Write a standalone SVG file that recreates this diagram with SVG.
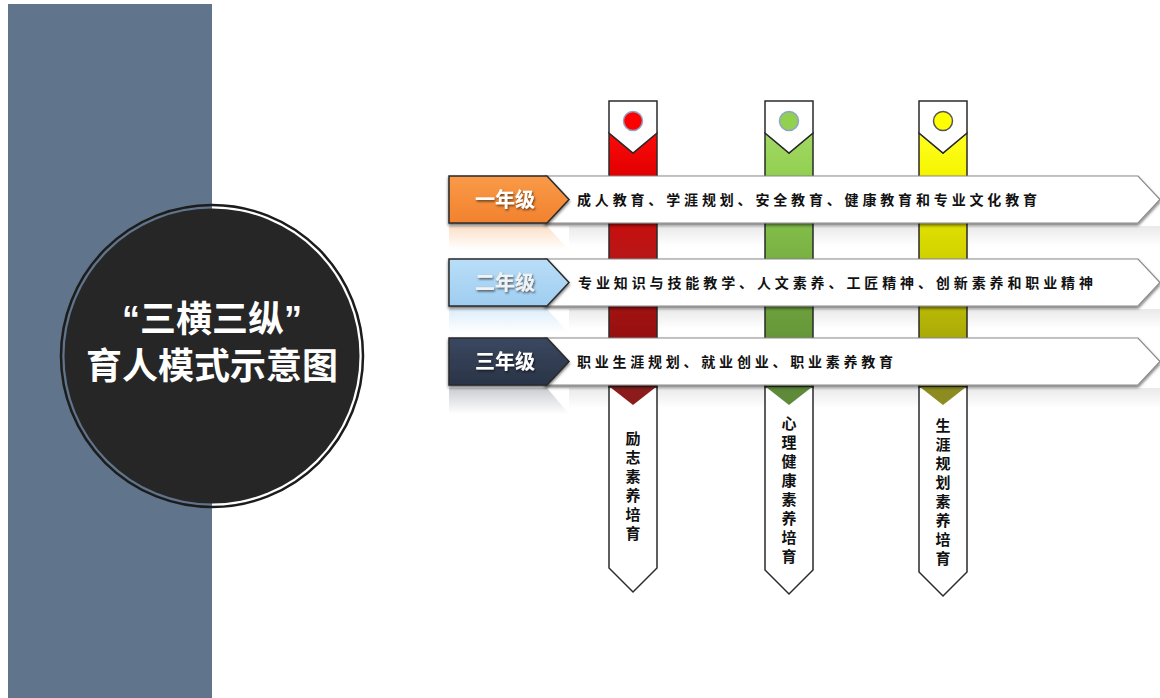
<svg xmlns="http://www.w3.org/2000/svg" width="1160" height="698" viewBox="0 0 1160 698">
<defs>
<style>
.tagtxt{font-family:"Noto Sans CJK SC","Noto Sans",sans-serif;font-size:20px;font-weight:bold;fill:#fff;text-anchor:middle;}
.bantxt{font-family:"Noto Sans CJK SC",sans-serif;font-size:14px;font-weight:bold;fill:#111;}
.vtxt{font-family:"Noto Sans CJK SC",sans-serif;font-size:15px;font-weight:bold;fill:#111;writing-mode:tb;letter-spacing:4px;}
.edge{stroke:#2a2a2a;stroke-width:1.5;stroke-linejoin:miter;}
.ban{fill:#fff;stroke:#8a8a8a;stroke-width:1.2;}
.title{font-family:"Liberation Sans","Noto Sans CJK SC",sans-serif;font-size:36px;font-weight:bold;fill:#fff;text-anchor:middle;}
</style>
<filter id="sh" x="-10%" y="-30%" width="120%" height="180%">
<feDropShadow dx="0" dy="2" stdDeviation="1.5" flood-color="#000" flood-opacity="0.55"/>
</filter>
<filter id="tsh" x="-20%" y="-30%" width="140%" height="170%">
<feDropShadow dx="1" dy="1.5" stdDeviation="1" flood-color="#000" flood-opacity="0.6"/>
</filter>
<linearGradient id="gRed" gradientUnits="userSpaceOnUse" x1="0" y1="132" x2="0" y2="405">
<stop offset="0" stop-color="#ff0a0a"/><stop offset="0.16" stop-color="#e00000"/><stop offset="0.45" stop-color="#b81616"/><stop offset="1" stop-color="#7a0a0a"/>
</linearGradient>
<linearGradient id="gGreen" gradientUnits="userSpaceOnUse" x1="0" y1="132" x2="0" y2="405">
<stop offset="0" stop-color="#a2d864"/><stop offset="0.16" stop-color="#92d050"/><stop offset="0.45" stop-color="#7ab244"/><stop offset="1" stop-color="#557f30"/>
</linearGradient>
<linearGradient id="gYellow" gradientUnits="userSpaceOnUse" x1="0" y1="132" x2="0" y2="405">
<stop offset="0" stop-color="#ffff20"/><stop offset="0.16" stop-color="#f5f500"/><stop offset="0.45" stop-color="#d2d200"/><stop offset="1" stop-color="#8a8a10"/>
</linearGradient>
<linearGradient id="tOrange" x1="0" y1="0" x2="0" y2="1"><stop offset="0" stop-color="#f99a48"/><stop offset="1" stop-color="#f2822e"/></linearGradient>
<linearGradient id="tBlue" x1="0" y1="0" x2="0" y2="1"><stop offset="0" stop-color="#b9def8"/><stop offset="1" stop-color="#9fcdf0"/></linearGradient>
<linearGradient id="tNavy" x1="0" y1="0" x2="0" y2="1"><stop offset="0" stop-color="#3a4860"/><stop offset="1" stop-color="#2a3447"/></linearGradient>
<linearGradient id="rOrange" x1="0" y1="0" x2="0" y2="1"><stop offset="0" stop-color="#f79646" stop-opacity="0.3"/><stop offset="1" stop-color="#f79646" stop-opacity="0"/></linearGradient>
<linearGradient id="rBlue" x1="0" y1="0" x2="0" y2="1"><stop offset="0" stop-color="#9fcdf0" stop-opacity="0.35"/><stop offset="1" stop-color="#9fcdf0" stop-opacity="0"/></linearGradient>
<linearGradient id="rNavy" x1="0" y1="0" x2="0" y2="1"><stop offset="0" stop-color="#2a3447" stop-opacity="0.25"/><stop offset="1" stop-color="#2a3447" stop-opacity="0"/></linearGradient>
<linearGradient id="rGray" x1="0" y1="0" x2="0" y2="1"><stop offset="0" stop-color="#888" stop-opacity="0.18"/><stop offset="1" stop-color="#888" stop-opacity="0"/></linearGradient>
</defs>

<rect x="0" y="0" width="1160" height="698" fill="#fff"/>
<rect x="8" y="4" width="204" height="694" fill="#60748b"/>

<g id="title">
<circle cx="212" cy="356" r="151" fill="none" stroke="#1c1c1c" stroke-width="2.5"/>
<circle cx="212" cy="356" r="147.5" fill="#262626"/>
<text class="title" x="212" y="332">“三横三纵”</text>
<text class="title" x="212" y="379">育人模式示意图</text>
</g>

<g id="reflections">
<polygon points="449,226 547,226 569,250 449,250" fill="url(#rOrange)"/>
<polygon points="569,226 1160,226 1160,246 569,246" fill="url(#rGray)"/>
<polygon points="449,309 547,309 569,333 449,333" fill="url(#rBlue)"/>
<polygon points="569,309 1160,309 1160,329 569,329" fill="url(#rGray)"/>
<polygon points="449,388 547,388 569,414 449,414" fill="url(#rNavy)"/>
<polygon points="569,388 1160,388 1160,408 569,408" fill="url(#rGray)"/>
</g>

<g id="col-1">
<polygon class="edge" points="609,133 633,153 657,133 657,387 609,387" fill="url(#gRed)"/>
<polygon class="edge" points="609,101 657,101 657,133 633,153 609,133" fill="#fff"/>
<circle cx="633" cy="121" r="9.5" fill="#ff0000" stroke="#8fa3c8" stroke-width="1.5"/>
<polygon class="edge" points="609,387 657,387 657,568 633,592 609,568" fill="#fff"/>
<polygon points="610,387 656,387 633,405" fill="#8c1c1c"/>
<text class="vtxt" x="633" y="431">励志素养培育</text>
</g>

<g id="col-2">
<polygon class="edge" points="765,133 789,153 813,133 813,387 765,387" fill="url(#gGreen)"/>
<polygon class="edge" points="765,101 813,101 813,133 789,153 765,133" fill="#fff"/>
<circle cx="789" cy="121" r="9.5" fill="#92d050" stroke="#8fa3c8" stroke-width="1.5"/>
<polygon class="edge" points="765,387 813,387 813,570 789,594 765,570" fill="#fff"/>
<polygon points="766,387 812,387 789,405" fill="#5e8a3a"/>
<text class="vtxt" x="789" y="416">心理健康素养培育</text>
</g>

<g id="col-3">
<polygon class="edge" points="919,133 943,153 967,133 967,387 919,387" fill="url(#gYellow)"/>
<polygon class="edge" points="919,101 967,101 967,133 943,153 919,133" fill="#fff"/>
<circle cx="943" cy="121" r="9.5" fill="#ffff00" stroke="#555" stroke-width="1.5"/>
<polygon class="edge" points="919,387 967,387 967,572 943,596 919,572" fill="#fff"/>
<polygon points="920,387 966,387 943,405" fill="#8c8c20"/>
<text class="vtxt" x="943" y="418">生涯规划素养培育</text>
</g>

<g id="row-1">
<polygon class="ban" filter="url(#sh)" points="545,176 1138,176 1160,199.5 1138,223 545,223"/>
<polygon class="edge" filter="url(#sh)" points="449,176 547,176 569,199.5 547,223 449,223" fill="url(#tOrange)"/>
<text class="tagtxt" filter="url(#tsh)" x="505" y="206.5">一年级</text>
<text class="bantxt" x="577" y="204.5" textLength="460" lengthAdjust="spacing">成人教育、学涯规划、安全教育、健康教育和专业文化教育</text>
</g>

<g id="row-2">
<polygon class="ban" filter="url(#sh)" points="545,259 1138,259 1160,282.5 1138,306 545,306"/>
<polygon class="edge" filter="url(#sh)" points="449,259 547,259 569,282.5 547,306 449,306" fill="url(#tBlue)"/>
<text class="tagtxt" filter="url(#tsh)" x="505" y="289.5" style="fill:#f2f2f2">二年级</text>
<text class="bantxt" x="578" y="287.5" textLength="515" lengthAdjust="spacing">专业知识与技能教学、人文素养、工匠精神、创新素养和职业精神</text>
</g>

<g id="row-3">
<polygon class="ban" filter="url(#sh)" points="545,338 1138,338 1160,361.5 1138,385 545,385"/>
<polygon class="edge" filter="url(#sh)" points="449,338 547,338 569,361.5 547,385 449,385" fill="url(#tNavy)"/>
<text class="tagtxt" filter="url(#tsh)" x="505" y="368.5">三年级</text>
<text class="bantxt" x="577" y="366.5" textLength="316" lengthAdjust="spacing">职业生涯规划、就业创业、职业素养教育</text>
</g>
</svg>
